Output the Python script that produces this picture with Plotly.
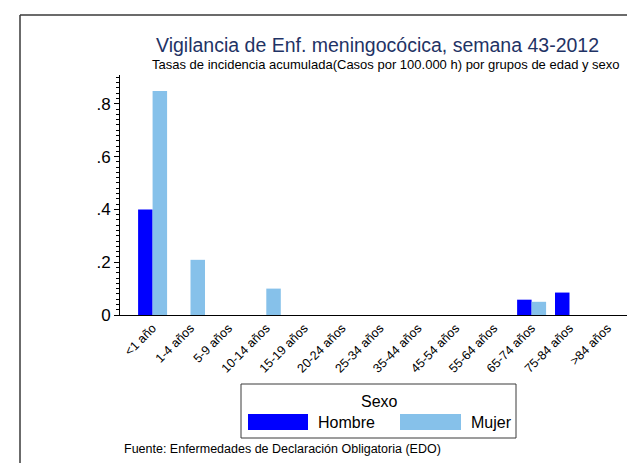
import plotly.graph_objects as go

categories = ["<1 año", "1-4 años", "5-9 años", "10-14 años", "15-19 años", "20-24 años",
              "25-34 años", "35-44 años", "45-54 años", "55-64 años", "65-74 años",
              "75-84 años", ">84 años"]
hombre = [0.40, 0, 0, 0, 0, 0, 0, 0, 0, 0, 0.058, 0.085, 0]
mujer = [0.848, 0.209, 0, 0.10, 0, 0, 0, 0, 0, 0, 0.05, 0, 0]
y_ticks = [0, 0.2, 0.4, 0.6, 0.8]
y_ticklabels = ["0", ".2", ".4", ".6", ".8"]

W, H = 635, 463
L, R, T, B = 112, 632, 67, 307
PW, PH = R - L, B - T

def px(x):
    return (x - L) / PW

def py(y):
    return (B - y) / PH

FONT = "Arial, Liberation Sans, sans-serif"
C_H = "#0000FF"
C_M = "#86C1EA"

fig = go.Figure()
fig.add_trace(go.Bar(x=categories, y=hombre, name="Hombre", marker=dict(color=C_H, line=dict(width=0))))
fig.add_trace(go.Bar(x=categories, y=mujer, name="Mujer", marker=dict(color=C_M, line=dict(width=0))))

shapes = []
# outer frame (left and top)
shapes.append(dict(type="line", xref="paper", yref="paper", x0=px(12), x1=px(12), y0=py(7), y1=py(470),
                   line=dict(color="#3a3a3a", width=1.5)))
shapes.append(dict(type="line", xref="paper", yref="paper", x0=px(12), x1=px(640), y0=py(7), y1=py(7),
                   line=dict(color="#3a3a3a", width=1.5)))
# legend box
shapes.append(dict(type="rect", xref="paper", yref="paper", x0=px(233), x1=px(508), y0=py(376), y1=py(430),
                   line=dict(color="#3a3a3a", width=1), fillcolor="white"))
shapes.append(dict(type="rect", xref="paper", yref="paper", x0=px(240), x1=px(300), y0=py(406), y1=py(422),
                   line=dict(width=0), fillcolor=C_H))
shapes.append(dict(type="rect", xref="paper", yref="paper", x0=px(392), x1=px(453), y0=py(406), y1=py(422),
                   line=dict(width=0), fillcolor=C_M))

annotations = [
    dict(text="Vigilancia de Enf. meningocócica, semana 43-2012", xref="paper", yref="paper",
         x=px(369.5), y=py(37), xanchor="center", yanchor="middle", showarrow=False,
         font=dict(family=FONT, size=19.5, color="#1f3365")),
    dict(text="Tasas de incidencia acumulada(Casos por 100.000 h) por grupos de edad y sexo", xref="paper",
         yref="paper", x=px(377.5), y=py(57), xanchor="center", yanchor="middle", showarrow=False,
         font=dict(family=FONT, size=13, color="black")),
    dict(text="Sexo", xref="paper", yref="paper", x=px(371), y=py(393), xanchor="center", yanchor="middle",
         showarrow=False, font=dict(family=FONT, size=16, color="black")),
    dict(text="Hombre", xref="paper", yref="paper", x=px(308), y=py(414), xanchor="left", yanchor="middle",
         showarrow=False, font=dict(family=FONT, size=16, color="black")),
    dict(text="Mujer", xref="paper", yref="paper", x=px(461), y=py(414), xanchor="left", yanchor="middle",
         showarrow=False, font=dict(family=FONT, size=16, color="black")),
    dict(text="Fuente: Enfermedades de Declaración Obligatoria (EDO)", xref="paper", yref="paper",
         x=px(114), y=py(441), xanchor="left", yanchor="middle", showarrow=False,
         font=dict(family=FONT, size=12.5, color="black")),
]

fig.update_layout(
    template="none",
    width=W, height=H,
    margin=dict(l=L, r=W - R, t=T, b=H - B, pad=0, autoexpand=False),
    paper_bgcolor="white", plot_bgcolor="white",
    barmode="group", bargap=0.235, bargroupgap=0,
    showlegend=False,
    shapes=shapes,
    annotations=annotations,
    font=dict(family=FONT, color="black"),
    xaxis=dict(type="category", range=[-0.86, len(categories) - 1 + 0.86], showgrid=False, zeroline=False,
               showline=True, linecolor="black", linewidth=1, ticks="", tickangle=-45,
               tickfont=dict(family=FONT, size=12.5, color="black"), automargin=False, fixedrange=True),
    yaxis=dict(range=[0, 0.909], tickmode="array", tickvals=y_ticks, ticktext=y_ticklabels,
               showgrid=False, zeroline=False, showline=True, linecolor="black", linewidth=1,
               ticks="outside", ticklen=5, tickcolor="black", tickwidth=1,
               minor=dict(dtick=0.02, tick0=0, ticks="outside", ticklen=3, tickcolor="black", tickwidth=1, showgrid=False),
               tickfont=dict(family=FONT, size=17, color="black"), automargin=False, fixedrange=True),
)

fig.write_html("out.html")
